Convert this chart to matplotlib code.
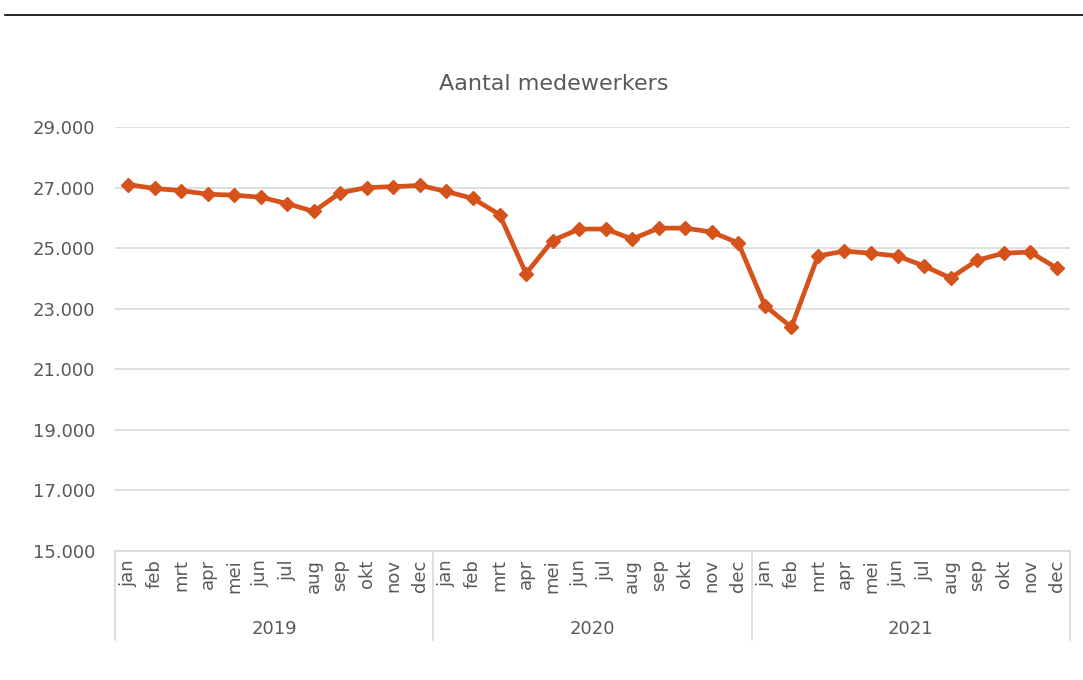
import numpy as np
import matplotlib.pyplot as plt
import matplotlib.transforms as mtransforms

plt.rcParams['font.family'] = ['DejaVu Sans']

maanden = ['jan', 'feb', 'mrt', 'apr', 'mei', 'jun', 'jul', 'aug', 'sep', 'okt', 'nov', 'dec']
jaren = ['2019', '2020', '2021']
medewerkers_2019 = [27100, 26970, 26900, 26780, 26750, 26680, 26470, 26210, 26830, 27000, 27030, 27070]
medewerkers_2020 = [26870, 26640, 26110, 24160, 25250, 25630, 25630, 25300, 25660, 25660, 25530, 25170]
medewerkers_2021 = [23100, 22390, 24740, 24900, 24830, 24740, 24410, 24010, 24600, 24830, 24870, 24340]

waarden = medewerkers_2019 + medewerkers_2020 + medewerkers_2021
labels = maanden * len(jaren)
x = np.arange(len(waarden))

grijs = '#595959'
lijn = '#D9D9D9'

fig = plt.figure(figsize=(10.83, 6.8), dpi=100)
ax = fig.add_axes([0.106, 0.19, 0.882, 0.6232])

ax.plot(x, waarden, color='#D5521A', lw=3.4, marker='D', markersize=7.5,
        solid_joinstyle='round', zorder=3)

ax.set_ylim(15000, 29000)
ax.set_xlim(-0.5, len(waarden) - 0.5)
ax.set_yticks(np.arange(15000, 29001, 2000))
ax.set_yticklabels([f'{v:,}'.replace(',', '.') for v in range(15000, 29001, 2000)])
ax.grid(axis='y', color=lijn, lw=1.2)
ax.set_axisbelow(True)
for s in ['top', 'right', 'left']:
    ax.spines[s].set_visible(False)
ax.spines['bottom'].set_color(lijn)
ax.spines['bottom'].set_linewidth(1.2)
ax.tick_params(axis='y', length=0, pad=14, labelsize=13, labelcolor=grijs)

ax.set_xticks(x)
ax.set_xticklabels(labels, rotation=90, fontsize=13, color=grijs)
ax.tick_params(axis='x', length=0, pad=6)

# jaar-scheidingslijnen en jaarlabels
trans = mtransforms.blended_transform_factory(ax.transData, ax.transAxes)
for i in range(len(jaren) + 1):
    ax.plot([i * 12 - 0.5, i * 12 - 0.5], [0, -0.21], transform=trans,
            color=lijn, lw=1.2, clip_on=False)
for i, j in enumerate(jaren):
    ax.text(i * 12 + 5.5, -0.185, j, transform=trans, ha='center', va='center',
            fontsize=13, color=grijs)

fig.text(0.511, 0.877, 'Aantal medewerkers', ha='center', va='center',
         fontsize=16, color=grijs)

# zwarte lijn bovenaan
fig.add_artist(plt.Line2D([0.005, 1.0], [0.978, 0.978], color='black', lw=1.2,
                          transform=fig.transFigure))

fig.savefig('out.png', dpi=100)
